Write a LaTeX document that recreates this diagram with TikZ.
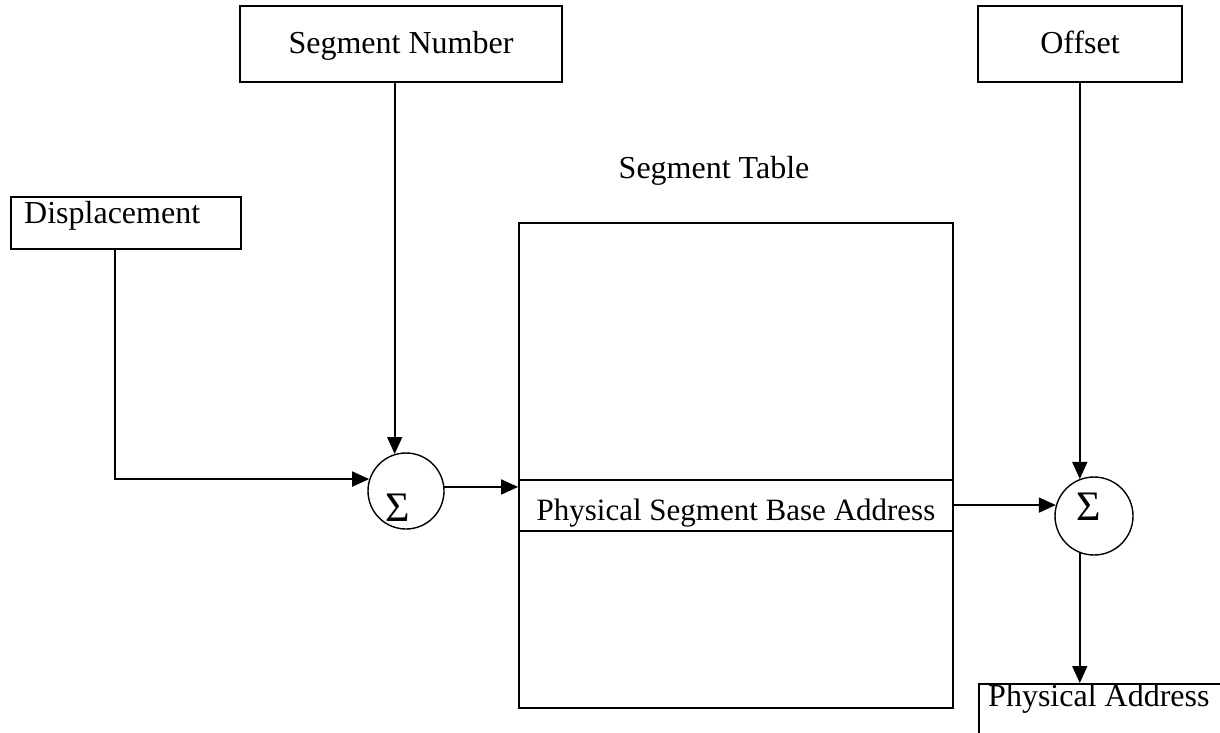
\documentclass[tikz,border=0pt]{standalone}
\usepackage{fontspec}
\setmainfont{Liberation Serif}
\usetikzlibrary{arrows.meta}
\begin{document}
\begin{tikzpicture}[x=1pt,y=-1pt,
  lw/.style={line width=1.7pt},
  box/.style={draw,lw,rectangle,inner sep=0pt,font=\fontsize{32}{36}\selectfont},
  txt/.style={inner sep=0pt,font=\fontsize{32}{36}\selectfont},
  sumc/.style={draw,line width=1.4pt,circle,inner sep=0pt},
  sig/.style={inner sep=0pt,font=\fontsize{42}{46}\selectfont},
  arr/.style={lw,-{Triangle[length=17pt,width=15pt]}}]
\useasboundingbox (0,0) rectangle (1220,732);
\clip (0,0) rectangle (1220,732);
% top boxes
\node[box,minimum width=322pt,minimum height=76pt,text height=24pt,text depth=6pt] (segnum) at (401,44) {Segment Number};
\node[box,minimum width=204pt,minimum height=76pt,text height=24pt,text depth=6pt] (offset) at (1080,44) {Offset};
% displacement
\node[box,minimum width=230pt,minimum height=52pt] (disp) at (126,223) {};
\node[txt,anchor=base west] (disptxt) at (24,223) {Displacement};
% segment table
\node[txt,anchor=base] (stlabel) at (714,178) {Segment Table};
\node[box,minimum width=434pt,minimum height=485pt] (tbl) at (736,465.5) {};
\node[box,minimum width=434pt,minimum height=51pt,text height=34pt,text depth=5pt,font=\fontsize{31}{36}\selectfont] (row) at (736,505.5) {Physical Segment Base Address};
% sums
\node[sumc,minimum size=76pt] (sig1) at (406,491) {};
\node[sig,anchor=base] (sig1t) at (398,521) {Σ};
\node[sumc,minimum size=78pt] (sig2) at (1094,516) {};
\node[sig,anchor=base] (sig2t) at (1089,520) {Σ};
% physical address
\node[box,anchor=north west,minimum width=320pt,minimum height=120pt] (phys) at (978,683) {};
\node[txt,anchor=base west] (phystxt) at (988,706) {Physical Address};
% connectors
\coordinate (dx) at (115,0);
\draw[arr] (disp.south -| dx) |- (sig1.162);
\draw[arr] (segnum.south -| sig1.107) -- (sig1.107);
\draw[arr] (sig1.6) -- (sig1.6 -| tbl.west);
\draw[arr] (row.east |- sig2.164) -- (sig2.164);
\draw[arr] (offset.south -| sig2.111) -- (sig2.111);
\draw[arr] (sig2.249) -- (sig2.249 |- phys.north);
\end{tikzpicture}
\end{document}
